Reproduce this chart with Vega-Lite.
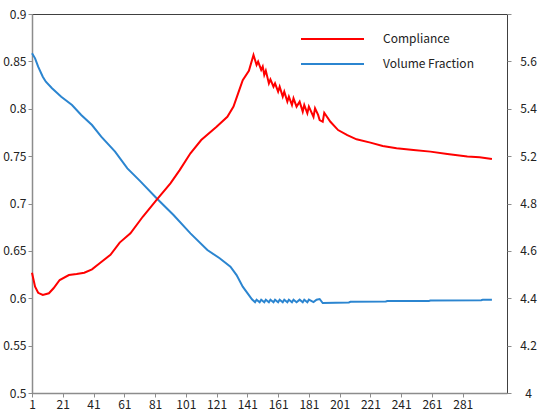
{
  "$schema": "https://vega.github.io/schema/vega-lite/v6.json",
  "width": 475,
  "height": 379,
  "autosize": {"type": "none"},
  "padding": {"left": 32, "top": 14, "right": 33, "bottom": 21},
  "background": "white",
  "config": {
    "view": {"stroke": "#404040", "strokeWidth": 1},
    "font": "Noto Sans CJK KR",
    "axis": {
      "labelFont": "Noto Sans CJK KR",
      "labelFontSize": 12,
      "labelColor": "#222222",
      "domainColor": "#8c8c8c",
      "domainWidth": 1.5,
      "tickColor": "#8c8c8c",
      "tickSize": 4,
      "grid": false,
      "title": null
    }
  },
  "datasets": {
    "vf": [
      {"iteration": 1, "value": 0.8585}, {"iteration": 3, "value": 0.8532}, {"iteration": 5, "value": 0.8444},
      {"iteration": 8, "value": 0.8338}, {"iteration": 10, "value": 0.8285}, {"iteration": 14, "value": 0.8216},
      {"iteration": 20, "value": 0.8127}, {"iteration": 27, "value": 0.804}, {"iteration": 33, "value": 0.7934},
      {"iteration": 40, "value": 0.7828}, {"iteration": 46, "value": 0.7705}, {"iteration": 55, "value": 0.7547},
      {"iteration": 63, "value": 0.7371}, {"iteration": 71, "value": 0.7241}, {"iteration": 82, "value": 0.7055},
      {"iteration": 93, "value": 0.6879}, {"iteration": 104, "value": 0.6685}, {"iteration": 115, "value": 0.6509},
      {"iteration": 123, "value": 0.6422}, {"iteration": 130, "value": 0.6333}, {"iteration": 134, "value": 0.6245},
      {"iteration": 138, "value": 0.6122}, {"iteration": 144, "value": 0.5989}, {"iteration": 146, "value": 0.5958},
      {"iteration": 147, "value": 0.5985}, {"iteration": 149, "value": 0.5958}, {"iteration": 150, "value": 0.5985},
      {"iteration": 152, "value": 0.5958}, {"iteration": 153, "value": 0.5985}, {"iteration": 155, "value": 0.5958},
      {"iteration": 156, "value": 0.5985}, {"iteration": 158, "value": 0.5958}, {"iteration": 159, "value": 0.5985},
      {"iteration": 161, "value": 0.5958}, {"iteration": 162, "value": 0.5985}, {"iteration": 164, "value": 0.5958},
      {"iteration": 165, "value": 0.5985}, {"iteration": 167, "value": 0.5958}, {"iteration": 168, "value": 0.5985},
      {"iteration": 170, "value": 0.5958}, {"iteration": 171, "value": 0.5985}, {"iteration": 173, "value": 0.5958},
      {"iteration": 175, "value": 0.5985}, {"iteration": 177, "value": 0.5958}, {"iteration": 178, "value": 0.5985},
      {"iteration": 180, "value": 0.5958}, {"iteration": 181, "value": 0.5985}, {"iteration": 184, "value": 0.596},
      {"iteration": 186, "value": 0.5985}, {"iteration": 188, "value": 0.5992}, {"iteration": 190, "value": 0.595},
      {"iteration": 207, "value": 0.5955}, {"iteration": 208, "value": 0.5962}, {"iteration": 231, "value": 0.5965},
      {"iteration": 232, "value": 0.597}, {"iteration": 259, "value": 0.5972}, {"iteration": 260, "value": 0.5977},
      {"iteration": 293, "value": 0.5979}, {"iteration": 294, "value": 0.5983}, {"iteration": 300, "value": 0.5985}
    ],
    "comp": [
      {"iteration": 1, "value": 4.508}, {"iteration": 3, "value": 4.449}, {"iteration": 5, "value": 4.423},
      {"iteration": 8, "value": 4.414}, {"iteration": 12, "value": 4.421}, {"iteration": 15, "value": 4.442},
      {"iteration": 19, "value": 4.477}, {"iteration": 25, "value": 4.498}, {"iteration": 30, "value": 4.502},
      {"iteration": 35, "value": 4.508}, {"iteration": 40, "value": 4.522}, {"iteration": 45, "value": 4.548},
      {"iteration": 52, "value": 4.583}, {"iteration": 58, "value": 4.635}, {"iteration": 65, "value": 4.674},
      {"iteration": 73, "value": 4.744}, {"iteration": 82, "value": 4.815}, {"iteration": 91, "value": 4.885},
      {"iteration": 97, "value": 4.941}, {"iteration": 104, "value": 5.012}, {"iteration": 111, "value": 5.068},
      {"iteration": 121, "value": 5.124}, {"iteration": 128, "value": 5.166}, {"iteration": 132, "value": 5.209},
      {"iteration": 135, "value": 5.265}, {"iteration": 138, "value": 5.321}, {"iteration": 142, "value": 5.36},
      {"iteration": 145, "value": 5.427}, {"iteration": 147, "value": 5.385}, {"iteration": 148, "value": 5.399},
      {"iteration": 150, "value": 5.364}, {"iteration": 151, "value": 5.378}, {"iteration": 152, "value": 5.343},
      {"iteration": 153, "value": 5.361}, {"iteration": 155, "value": 5.307}, {"iteration": 156, "value": 5.324},
      {"iteration": 158, "value": 5.293}, {"iteration": 159, "value": 5.307}, {"iteration": 161, "value": 5.272},
      {"iteration": 162, "value": 5.293}, {"iteration": 164, "value": 5.251}, {"iteration": 165, "value": 5.272},
      {"iteration": 167, "value": 5.23}, {"iteration": 168, "value": 5.251}, {"iteration": 170, "value": 5.216},
      {"iteration": 171, "value": 5.244}, {"iteration": 173, "value": 5.209}, {"iteration": 175, "value": 5.23},
      {"iteration": 177, "value": 5.188}, {"iteration": 178, "value": 5.216}, {"iteration": 180, "value": 5.181},
      {"iteration": 181, "value": 5.209}, {"iteration": 184, "value": 5.166}, {"iteration": 185, "value": 5.202},
      {"iteration": 187, "value": 5.174}, {"iteration": 188, "value": 5.152}, {"iteration": 190, "value": 5.145},
      {"iteration": 191, "value": 5.183}, {"iteration": 195, "value": 5.145}, {"iteration": 200, "value": 5.11},
      {"iteration": 206, "value": 5.089}, {"iteration": 212, "value": 5.071}, {"iteration": 221, "value": 5.057},
      {"iteration": 229, "value": 5.043}, {"iteration": 238, "value": 5.033}, {"iteration": 249, "value": 5.026},
      {"iteration": 260, "value": 5.019}, {"iteration": 271, "value": 5.009}, {"iteration": 284, "value": 4.998},
      {"iteration": 292, "value": 4.995}, {"iteration": 300, "value": 4.988}
    ]
  },
  "encoding": {
    "x": {
      "field": "iteration",
      "type": "quantitative",
      "scale": {"domain": [1, 309.8], "nice": false, "zero": false},
      "axis": {
        "values": [1, 21, 41, 61, 81, 101, 121, 141, 161, 181, 201, 221, 241, 261, 281],
        "format": "d",
        "labelFlush": false,
        "labelPadding": 2
      }
    }
  },
  "layer": [
    {
      "data": {"name": "vf"},
      "mark": {"type": "line", "strokeWidth": 2, "interpolate": "linear"},
      "encoding": {
        "y": {
          "field": "value",
          "type": "quantitative",
          "scale": {"domain": [0.5, 0.9], "nice": false, "zero": false},
          "axis": {
            "orient": "left",
            "values": [0.5, 0.55, 0.6, 0.65, 0.7, 0.75, 0.8, 0.85, 0.9],
            "format": ".2~f",
            "labelPadding": 2
          }
        },
        "color": {
          "datum": "Volume Fraction",
          "type": "nominal",
          "scale": {"domain": ["Compliance", "Volume Fraction"], "range": ["#ff0000", "#2b85d0"]},
          "legend": {
            "orient": "none",
            "legendX": 268,
            "legendY": 18,
            "title": null,
            "padding": 0,
            "symbolType": "stroke",
            "symbolSize": 3969,
            "symbolStrokeWidth": 2,
            "clipHeight": 14,
            "labelOffset": 18,
            "labelFont": "Noto Sans CJK KR",
            "labelFontSize": 12,
            "labelColor": "#222222",
            "rowPadding": 11
          }
        }
      }
    },
    {
      "data": {"name": "comp"},
      "mark": {"type": "line", "strokeWidth": 2, "interpolate": "linear"},
      "encoding": {
        "y": {
          "field": "value",
          "type": "quantitative",
          "scale": {"domain": [4, 5.6], "nice": false, "zero": false},
          "axis": {
            "orient": "right",
            "domain": false,
            "values": [4, 4.2, 4.4, 4.6, 4.8, 5, 5.2, 5.4, 5.6],
            "labelExpr": "datum.value > 5.55 ? '' : datum.value > 4.95 ? format(datum.value + 0.2, '.1f') : format(datum.value, '.1~f')",
            "labelAlign": "center",
            "labelPadding": 17
          }
        },
        "color": {"datum": "Compliance", "type": "nominal"}
      }
    }
  ],
  "resolve": {"scale": {"y": "independent"}}
}
